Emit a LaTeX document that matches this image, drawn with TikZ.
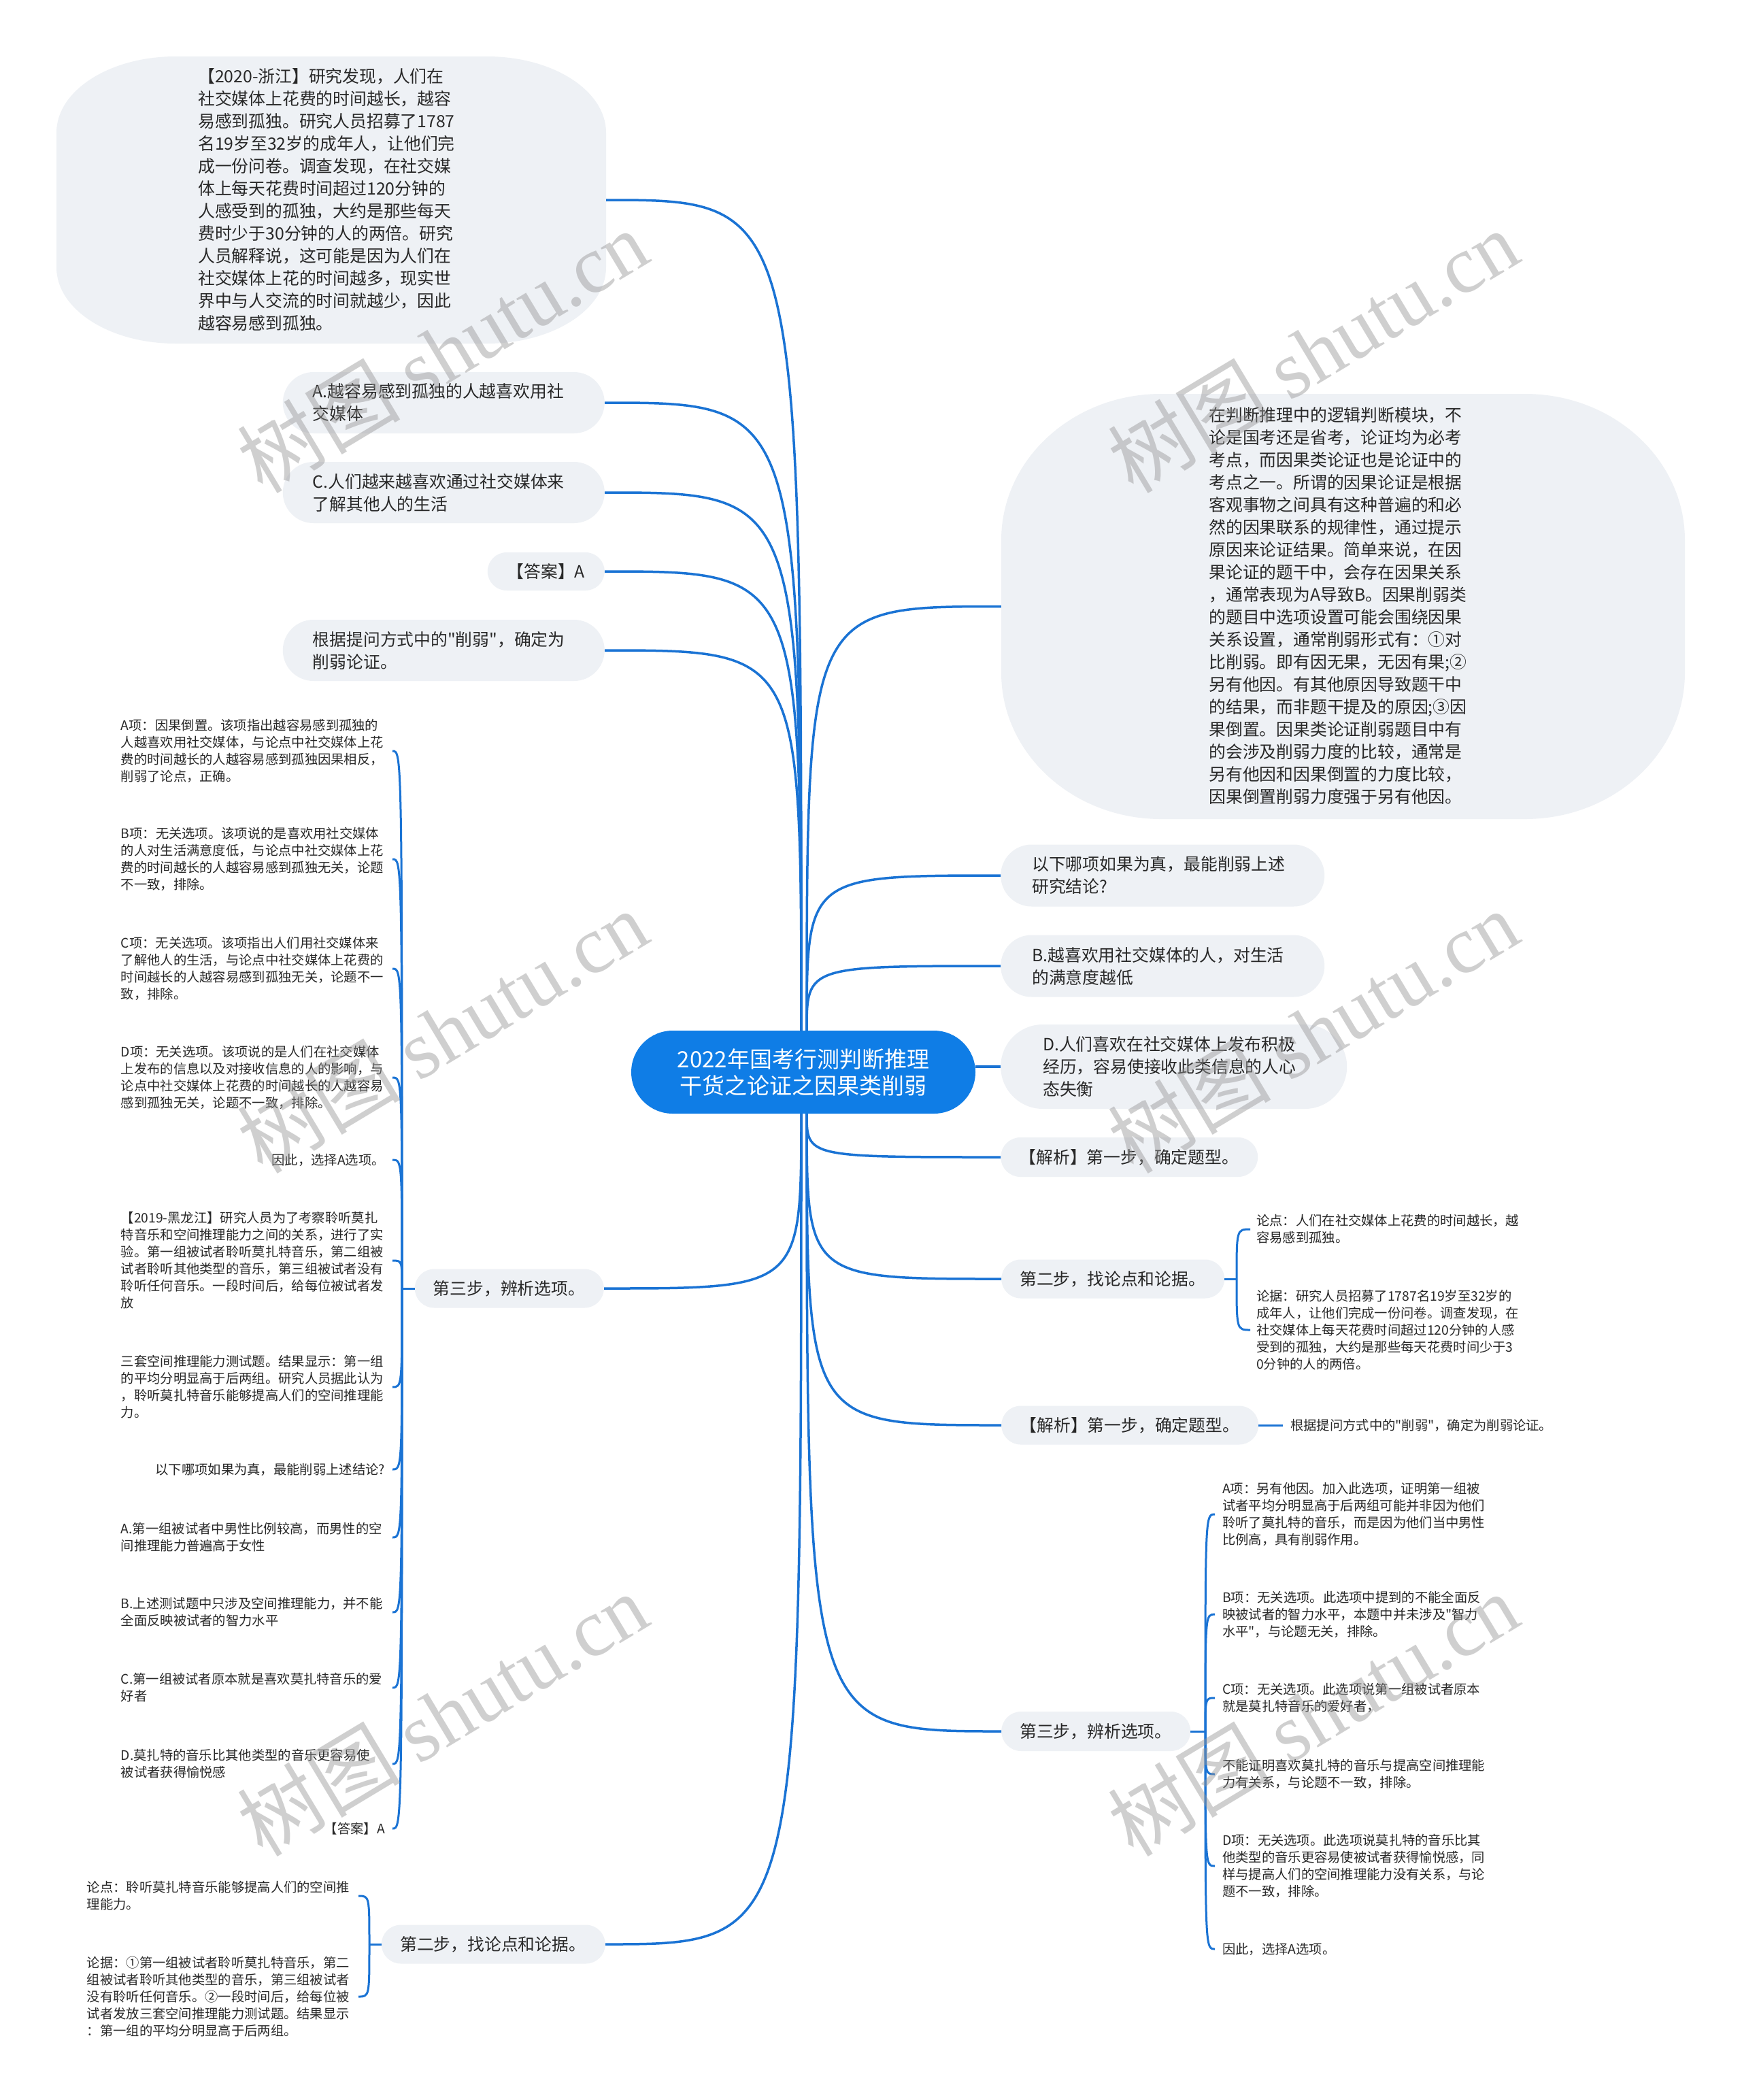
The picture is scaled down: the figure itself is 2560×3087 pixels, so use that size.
\documentclass[tikz,border=0pt]{standalone}
\usepackage{fontspec}
\setmainfont{Noto Sans CJK SC}
\newfontfamily\cjkmain{Noto Sans CJK SC}
\newfontfamily\wmlatin{Liberation Serif}
\usetikzlibrary{calc}
\definecolor{lineblue}{RGB}{26,115,212}
\definecolor{centerblue}{RGB}{15,125,230}
\definecolor{nodefill}{RGB}{238,241,245}
\definecolor{txt}{RGB}{40,40,40}
\definecolor{wm}{RGB}{150,150,150}
\begin{document}
\begin{tikzpicture}[x=1pt,y=-1pt,
  conn/.style={draw=lineblue, line width=3.5pt},
  brk/.style={draw=lineblue, line width=3pt},
  bodyfont/.style={font=\cjkmain\fontsize{24.8pt}{33pt}\selectfont},
  smallfont/.style={font=\cjkmain\fontsize{19.3pt}{25pt}\selectfont},
  pill/.style={fill=nodefill, text=txt, bodyfont, inner ysep=0pt, align=left},
  leafL/.style={text=txt, smallfont, align=left, anchor=east, inner xsep=11pt, inner ysep=0pt},
  leafR/.style={text=txt, smallfont, align=left, anchor=west, inner xsep=11pt, inner ysep=0pt},
  multi/.style={text width=388pt},
  wmark/.style={text=wm, opacity=0.45, rotate=31, font=\fontsize{120pt}{120pt}\selectfont},
]
\useasboundingbox (0,0) rectangle (2560,3087);
\fill[white] (0,0) rectangle (2560,3087);

% big shapes
\fill[nodefill] (258,83) -- (716,83) .. controls (812.7,83) and (891,133.1) .. (891,195) -- (891,393) .. controls (891,454.9) and (812.7,505) .. (716,505) -- (258,505) .. controls (161.3,505) and (83,454.9) .. (83,393) -- (83,195) .. controls (83,133.1) and (161.3,83) .. (258,83) -- cycle;
\fill[nodefill] (1707,579) -- (2242,579) .. controls (2371.8,579) and (2477,675.3) .. (2477,794) -- (2477,989) .. controls (2477,1107.7) and (2371.8,1204) .. (2242,1204) -- (1707,1204) .. controls (1577.2,1204) and (1472,1107.7) .. (1472,989) -- (1472,794) .. controls (1472,675.3) and (1577.2,579) .. (1707,579) -- cycle;

\node[minimum width=808pt, minimum height=422pt, inner sep=0pt] (l1) at (487,294) {};
\node[text=txt, bodyfont, align=left, inner sep=0pt] (l1t) at (480,294) {【2020-浙江】研究发现，人们在\\社交媒体上花费的时间越长，越容\\易感到孤独。研究人员招募了1787\\名19岁至32岁的成年人，让他们完\\成一份问卷。调查发现，在社交媒\\体上每天花费时间超过120分钟的\\人感受到的孤独，大约是那些每天\\费时少于30分钟的人的两倍。研究\\人员解释说，这可能是因为人们在\\社交媒体上花的时间越多，现实世\\界中与人交流的时间就越少，因此\\越容易感到孤独。};

\node[minimum width=1005pt, minimum height=625pt, inner sep=0pt] (r1) at (1974.5,891.5) {};
\node[text=txt, bodyfont, align=left, inner sep=0pt] (r1t) at (1967,891) {在判断推理中的逻辑判断模块，不\\论是国考还是省考，论证均为必考\\考点，而因果类论证也是论证中的\\考点之一。所谓的因果论证是根据\\客观事物之间具有这种普遍的和必\\然的因果联系的规律性，通过提示\\原因来论证结果。简单来说，在因\\果论证的题干中，会存在因果关系\\，通常表现为A导致B。因果削弱类\\的题目中选项设置可能会围绕因果\\关系设置，通常削弱形式有：①对\\比削弱。即有因无果，无因有果;②\\另有他因。有其他原因导致题干中\\的结果，而非题干提及的原因;③因\\果倒置。因果类论证削弱题目中有\\的会涉及削弱力度的比较，通常是\\另有他因和因果倒置的力度比较，\\因果倒置削弱力度强于另有他因。};

% central
\node[fill=centerblue, text=white, rounded corners=61pt, minimum width=506pt, minimum height=122pt, align=center, font=\cjkmain\fontsize{33pt}{39pt}\selectfont] (c) at (1181,1576) {2022年国考行测判断推理\\干货之论证之因果类削弱};

% left pills
\node[pill, anchor=east, minimum height=90pt, rounded corners=45pt, text width=385pt, inner xsep=44pt] (l2) at (889,592) {A.越容易感到孤独的人越喜欢用社\\交媒体};
\node[pill, anchor=east, minimum height=90pt, rounded corners=45pt, text width=385pt, inner xsep=44pt] (l3) at (889,724) {C.人们越来越喜欢通过社交媒体来\\了解其他人的生活};
\node[pill, anchor=east, minimum height=56pt, rounded corners=28pt, minimum width=172pt, align=center] (l4) at (889,840) {【答案】A};
\node[pill, anchor=east, minimum height=90pt, rounded corners=45pt, text width=385pt, inner xsep=44pt] (l5) at (889,956) {根据提问方式中的"削弱"，确定为\\削弱论证。};
\node[pill, anchor=east, minimum height=57pt, rounded corners=28.5pt, text width=224pt, inner xsep=27pt] (l6) at (888,1894) {第三步，辨析选项。};
\node[pill, anchor=east, minimum height=57pt, rounded corners=28.5pt, text width=274pt, inner xsep=27.5pt] (l7) at (890,2858) {第二步，找论点和论据。};

% right pills
\node[pill, anchor=west, minimum height=91pt, rounded corners=45.5pt, text width=384pt, inner xsep=46pt] (r2) at (1471,1287) {以下哪项如果为真，最能削弱上述\\研究结论?};
\node[pill, anchor=west, minimum height=91pt, rounded corners=45.5pt, text width=384pt, inner xsep=46pt] (r3) at (1471,1420) {B.越喜欢用社交媒体的人，对生活\\的满意度越低};
\node[pill, anchor=west, minimum height=124pt, rounded corners=62pt, text width=385pt, inner xsep=62pt] (r4) at (1471,1568) {D.人们喜欢在社交媒体上发布积极\\经历，容易使接收此类信息的人心\\态失衡};
\node[pill, anchor=west, minimum height=58pt, rounded corners=29pt, text width=323pt, inner xsep=27.5pt] (r5) at (1471,1701) {【解析】第一步，确定题型。};
\node[pill, anchor=west, minimum height=57pt, rounded corners=28.5pt, text width=274pt, inner xsep=27pt] (r6) at (1472,1880) {第二步，找论点和论据。};
\node[pill, anchor=west, minimum height=57pt, rounded corners=28.5pt, text width=323pt, inner xsep=27.5pt] (r7) at (1472,2095) {【解析】第一步，确定题型。};
\node[pill, anchor=west, minimum height=58pt, rounded corners=29pt, text width=224pt, inner xsep=27pt] (r8) at (1472,2545) {第三步，辨析选项。};

% start points on central node
\coordinate (sul) at (1178,1515);
\coordinate (sur) at (1186,1515);
\coordinate (sdl) at (1178,1637);
\coordinate (sdr) at (1186,1637);

\foreach \n in {l1,l2,l3,l4,l5}{
  \draw[conn] (sul) .. controls (sul |- \n.east) .. (\n.east);
}
\foreach \n in {l6,l7}{
  \draw[conn] (sdl) .. controls (sdl |- \n.east) .. (\n.east);
}
\foreach \n in {r1,r2,r3}{
  \draw[conn] (sur) .. controls (sur |- \n.west) .. (\n.west);
}
\foreach \n in {r5,r6,r7,r8}{
  \draw[conn] (sdr) .. controls (sdr |- \n.west) .. (\n.west);
}
\draw[conn] (c.east |- r4.west) -- (r4.west);

% left third step children
\node[leafL, multi] (a1) at (577,1104) {A项：因果倒置。该项指出越容易感到孤独的\\人越喜欢用社交媒体，与论点中社交媒体上花\\费的时间越长的人越容易感到孤独因果相反，\\削弱了论点，正确。};
\node[leafL, multi] (a2) at (577,1263) {B项：无关选项。该项说的是喜欢用社交媒体\\的人对生活满意度低，与论点中社交媒体上花\\费的时间越长的人越容易感到孤独无关，论题\\不一致，排除。};
\node[leafL, multi] (a3) at (577,1424) {C项：无关选项。该项指出人们用社交媒体来\\了解他人的生活，与论点中社交媒体上花费的\\时间越长的人越容易感到孤独无关，论题不一\\致，排除。};
\node[leafL, multi] (a4) at (577,1584) {D项：无关选项。该项说的是人们在社交媒体\\上发布的信息以及对接收信息的人的影响，与\\论点中社交媒体上花费的时间越长的人越容易\\感到孤独无关，论题不一致，排除。};
\node[leafL] (a5) at (577,1705) {因此，选择A选项。};
\node[leafL, multi] (a6) at (577,1853) {【2019-黑龙江】研究人员为了考察聆听莫扎\\特音乐和空间推理能力之间的关系，进行了实\\验。第一组被试者聆听莫扎特音乐，第二组被\\试者聆听其他类型的音乐，第三组被试者没有\\聆听任何音乐。一段时间后，给每位被试者发\\放};
\node[leafL, multi] (a7) at (577,2039) {三套空间推理能力测试题。结果显示：第一组\\的平均分明显高于后两组。研究人员据此认为\\，聆听莫扎特音乐能够提高人们的空间推理能\\力。};
\node[leafL] (a8) at (577,2160) {以下哪项如果为真，最能削弱上述结论?};
\node[leafL, multi] (a9) at (577,2260) {A.第一组被试者中男性比例较高，而男性的空\\间推理能力普遍高于女性};
\node[leafL, multi] (a10) at (577,2370) {B.上述测试题中只涉及空间推理能力，并不能\\全面反映被试者的智力水平};
\node[leafL, multi] (a11) at (577,2481) {C.第一组被试者原本就是喜欢莫扎特音乐的爱\\好者};
\node[leafL, multi] (a12) at (577,2593) {D.莫扎特的音乐比其他类型的音乐更容易使\\被试者获得愉悦感};
\node[leafL] (a13) at (577,2688) {【答案】A};
\coordinate (ja) at (591,1894);
\draw[brk] (l6.west) -- (ja);
\foreach \n in {a1,a2,a3,a4,a5,a6,a7,a8,a9,a10,a11,a12,a13}{
  \draw[brk] (ja) .. controls (ja |- \n.east) .. (\n.east);
}

% left second step children
\node[leafL, multi] (b1) at (527,2787) {论点：聆听莫扎特音乐能够提高人们的空间推\\理能力。};
\node[leafL, multi] (b2) at (527,2935) {论据：①第一组被试者聆听莫扎特音乐，第二\\组被试者聆听其他类型的音乐，第三组被试者\\没有聆听任何音乐。②一段时间后，给每位被\\试者发放三套空间推理能力测试题。结果显示\\：第一组的平均分明显高于后两组。};
\coordinate (jb) at (543,2858);
\draw[brk] (l7.west) -- (jb);
\foreach \n in {b1,b2}{
  \draw[brk] (jb) .. controls (jb |- \n.east) .. (\n.east);
}

% right second step children
\node[leafR, inner xsep=9pt] (c1) at (1838,1807) {论点：人们在社交媒体上花费的时间越长，越\\容易感到孤独。};
\node[leafR, inner xsep=9pt] (c2) at (1838,1955) {论据：研究人员招募了1787名19岁至32岁的\\成年人，让他们完成一份问卷。调查发现，在\\社交媒体上每天花费时间超过120分钟的人感\\受到的孤独，大约是那些每天花费时间少于3\\0分钟的人的两倍。};
\coordinate (jc) at (1818,1880);
\draw[brk] (r6.east) -- (jc);
\foreach \n in {c1,c2}{
  \draw[brk] (jc) .. controls (jc |- \n.west) .. (\n.west);
}

% right first step child
\node[leafR] (d1) at (1886,2095) {根据提问方式中的"削弱"，确定为削弱论证。};
\draw[brk] (r7.east) -- (d1.west);

% right third step children
\node[leafR] (e1) at (1786,2226) {A项：另有他因。加入此选项，证明第一组被\\试者平均分明显高于后两组可能并非因为他们\\聆听了莫扎特的音乐，而是因为他们当中男性\\比例高，具有削弱作用。};
\node[leafR] (e2) at (1786,2373) {B项：无关选项。此选项中提到的不能全面反\\映被试者的智力水平，本题中并未涉及"智力\\水平"，与论题无关，排除。};
\node[leafR] (e3) at (1786,2496) {C项：无关选项。此选项说第一组被试者原本\\就是莫扎特音乐的爱好者，};
\node[leafR] (e4) at (1786,2608) {不能证明喜欢莫扎特的音乐与提高空间推理能\\力有关系，与论题不一致，排除。};
\node[leafR] (e5) at (1786,2743) {D项：无关选项。此选项说莫扎特的音乐比其\\他类型的音乐更容易使被试者获得愉悦感，同\\样与提高人们的空间推理能力没有关系，与论\\题不一致，排除。};
\node[leafR] (e6) at (1786,2865) {因此，选择A选项。};
\coordinate (je) at (1772,2545);
\draw[brk] (r8.east) -- (je);
\foreach \n in {e1,e2,e3,e4,e5,e6}{
  \draw[brk] (je) .. controls (je |- \n.west) .. (\n.west);
}

% watermarks
\foreach \p [count=\i] in {(650,516),(1930,516),(650,1516),(1930,1516),(650,2520),(1930,2520)}{
  \node[wmark] (wm\i) at \p {树图 {\wmlatin shutu.cn}};
}
\end{tikzpicture}
\end{document}
